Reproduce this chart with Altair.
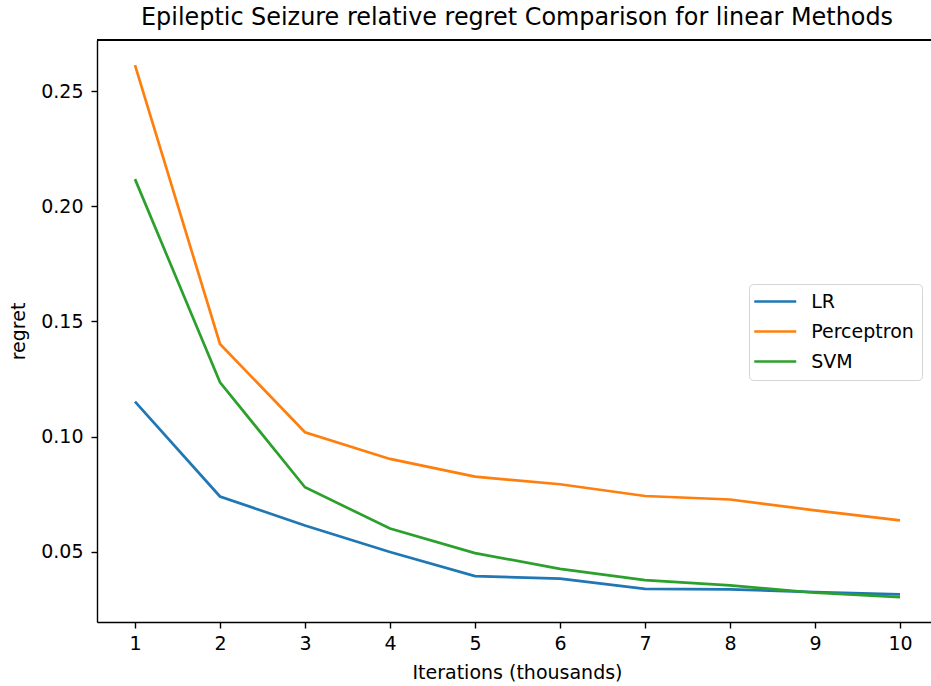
import altair as alt
import pandas as pd

# Relative regret per method, measured every thousand iterations
iterations = [1, 2, 3, 4, 5, 6, 7, 8, 9, 10]
lr_regret = [0.1152, 0.0740, 0.0614, 0.0499, 0.0394, 0.0383, 0.0339, 0.0337, 0.0325, 0.0315]
perceptron_regret = [0.2613, 0.1402, 0.1019, 0.0903, 0.0826, 0.0793, 0.0742, 0.0727, 0.0680, 0.0636]
svm_regret = [0.2118, 0.1236, 0.0780, 0.0601, 0.0494, 0.0426, 0.0377, 0.0354, 0.0322, 0.0303]

methods = ["LR", "Perceptron", "SVM"]
colors = ["#1f77b4", "#ff7f0e", "#2ca02c"]
x_ticks = iterations
y_ticks = [0.05, 0.10, 0.15, 0.20, 0.25]

rows = []
for name, series in zip(methods, [lr_regret, perceptron_regret, svm_regret]):
    for it, val in zip(iterations, series):
        rows.append({"iteration": it, "regret": val, "method": name})
df = pd.DataFrame(rows)

FONT = "DejaVu Sans"
W, H = 834, 582

lines = alt.Chart(df).mark_line(strokeWidth=2.7, clip=True).encode(
    x=alt.X(
        "iteration:Q",
        scale=alt.Scale(domain=[0.553, 10.365], zero=False, nice=False),
        axis=alt.Axis(
            values=x_ticks,
            format="d",
            title="Iterations (thousands)",
            titleX=420,
            titlePadding=10,
        ),
    ),
    y=alt.Y(
        "regret:Q",
        scale=alt.Scale(domain=[0.0195, 0.2722], zero=False, nice=False),
        axis=alt.Axis(
            values=y_ticks,
            format=".2f",
            title="regret",
            titlePadding=12,
            labelPadding=8,
        ),
    ),
    color=alt.Color(
        "method:N",
        scale=alt.Scale(domain=methods, range=colors),
        legend=alt.Legend(
            title=None,
            orient="none",
            legendX=652,
            legendY=244,
            # short horizontal stroke, 42px long
            symbolType="M-4,0H4",
            symbolSize=110.25,
            symbolStrokeWidth=2.7,
            symbolOffset=8.75,
            labelFontSize=19,
            labelFont=FONT,
            labelColor="#000000",
            labelOffset=26.5,
            rowPadding=10,
            padding=8,
            strokeColor="#d5d5d5",
            fillColor="#ffffff",
            cornerRadius=4,
        ),
    ),
)

# Top spine of the axes frame
top_spine = alt.Chart(df).mark_rule(color="#000000", strokeWidth=1.4).encode(
    x=alt.value(0), x2=alt.value(W), y=alt.value(0)
)

chart = (
    alt.layer(lines, top_spine)
    .properties(
        width=W,
        height=H,
        background="#ffffff",
        autosize=alt.AutoSizeParams(type="none"),
        padding={"left": 97, "top": 40, "right": 0, "bottom": 64},
        title=alt.TitleParams(
            "Epileptic Seizure relative regret Comparison for linear Methods",
            font=FONT,
            fontSize=23.9,
            fontWeight="normal",
            color="#000000",
            anchor="middle",
            dx=3,
            offset=9,
        ),
    )
    .configure_view(stroke=None)
    .configure_axis(
        grid=False,
        domainColor="#000000",
        domainWidth=1.4,
        tickColor="#000000",
        tickWidth=1.4,
        tickSize=6,
        labelFont=FONT,
        labelFontSize=19,
        labelColor="#000000",
        labelPadding=6,
        titleFont=FONT,
        titleFontSize=19,
        titleFontWeight="normal",
        titleColor="#000000",
    )
)

chart.save("out.html", embed_options={"renderer": "svg", "actions": False})
